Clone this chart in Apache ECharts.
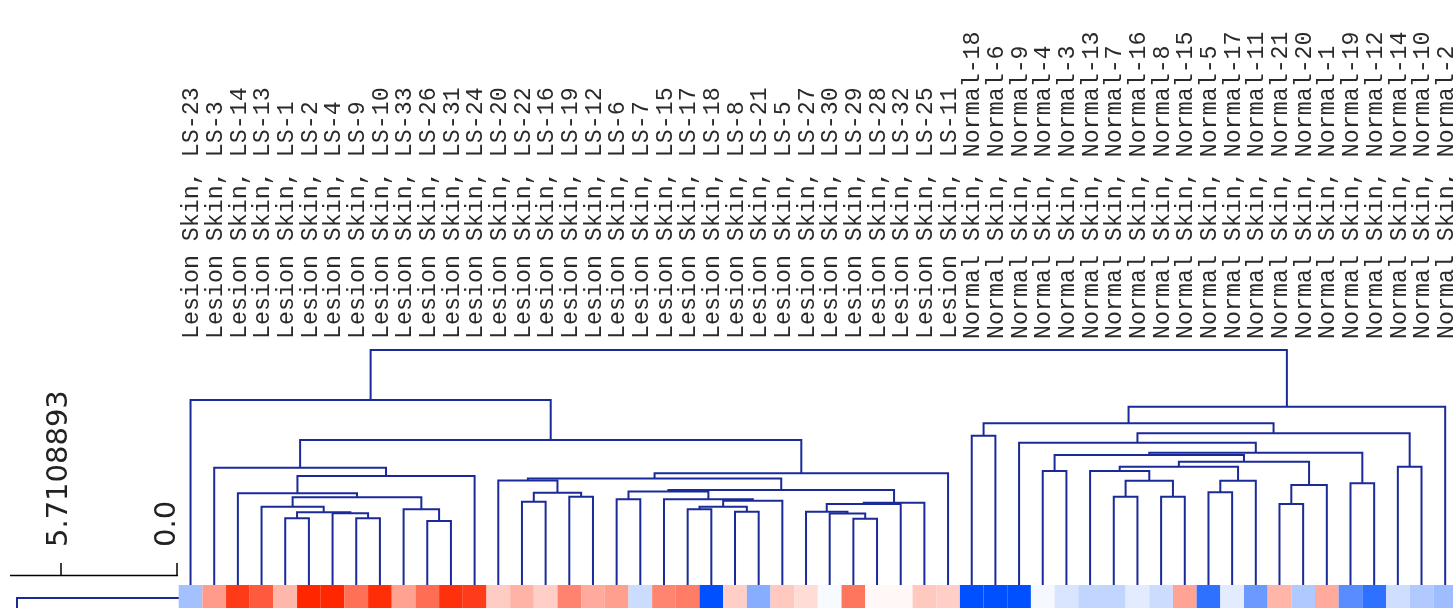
<!DOCTYPE html>
<html>
<head>
<meta charset="utf-8">
<title>Lesion vs Normal skin - clustering</title>
<script src="https://cdn.jsdelivr.net/npm/echarts@6/dist/echarts.min.js"></script>
<style>
  html, body { margin: 0; padding: 0; background: #fff; }
  #chart { width: 1453px; height: 608px; }
</style>
</head>
<body>
<div id="chart"></div>
<script>
// leaf order, left to right
var lesionIds = ['LS-23', 'LS-3', 'LS-14', 'LS-13', 'LS-1', 'LS-2', 'LS-4', 'LS-9', 'LS-10', 'LS-33',
    'LS-26', 'LS-31', 'LS-24', 'LS-20', 'LS-22', 'LS-16', 'LS-19', 'LS-12', 'LS-6', 'LS-7',
    'LS-15', 'LS-17', 'LS-18', 'LS-8', 'LS-21', 'LS-5', 'LS-27', 'LS-30', 'LS-29', 'LS-28',
    'LS-32', 'LS-25', 'LS-11'];
var normalIds = ['Normal-18', 'Normal-6', 'Normal-9', 'Normal-4', 'Normal-3', 'Normal-13', 'Normal-7',
    'Normal-16', 'Normal-8', 'Normal-15', 'Normal-5', 'Normal-17', 'Normal-11', 'Normal-21',
    'Normal-20', 'Normal-1', 'Normal-19', 'Normal-12', 'Normal-14', 'Normal-10', 'Normal-2'];

// expression of the row shown (blue = low, red = high)
var lesionValues = [-0.36, 0.46, 0.91, 0.76, 0.33, 1.0, 1.0, 0.66, 0.97, 0.43,
    0.67, 0.95, 0.90, 0.235, 0.35, 0.22, 0.57, 0.39, 0.44, -0.20,
    0.56, 0.60, -1.0, 0.22, -0.47, 0.25, 0.16, -0.03, 0.63, 0.03,
    0.03, 0.25, 0.22];
var normalValues = [-1.0, -1.0, -1.0, -0.04, -0.15, -0.24, -0.24, -0.11, -0.20, 0.42,
    -0.82, -0.11, -0.58, 0.34, -0.31, 0.39, -0.65, -0.82, -0.19, -0.31, -0.38];

// merges: [name, child a, child b, distance]
var merges = [
    ['m0', 'LS-1', 'LS-2', 66.7],
    ['m1', 'LS-9', 'LS-10', 66.7],
    ['m2', 'LS-4', 'm1', 71.7],
    ['m3', 'm0', 'm2', 72.7],
    ['m4', 'LS-13', 'm3', 78.3],
    ['m5', 'LS-26', 'LS-31', 64],
    ['m6', 'LS-33', 'm5', 75.7],
    ['m7', 'm4', 'm6', 87.7],
    ['m8', 'LS-14', 'm7', 91.7],
    ['m9', 'm8', 'LS-24', 109],
    ['m10', 'LS-3', 'm9', 117.3],
    ['m11', 'LS-22', 'LS-16', 83.3],
    ['m12', 'LS-19', 'LS-12', 88.3],
    ['m13', 'm11', 'm12', 92.3],
    ['m14', 'LS-20', 'm13', 104.5],
    ['m15', 'LS-6', 'LS-7', 85.7],
    ['m16', 'LS-17', 'LS-18', 75.7],
    ['m17', 'LS-8', 'LS-21', 73.3],
    ['m18', 'm16', 'm17', 78.3],
    ['m19', 'm18', 'LS-5', 84.3],
    ['m20', 'LS-15', 'm19', 85.7],
    ['m21', 'm15', 'm20', 93.5],
    ['m22', 'LS-29', 'LS-28', 66.3],
    ['m23', 'LS-30', 'm22', 71.5],
    ['m24', 'LS-27', 'm23', 73.3],
    ['m25', 'm24', 'LS-32', 81],
    ['m26', 'm25', 'LS-25', 82.3],
    ['m27', 'm21', 'm26', 95],
    ['m28', 'm14', 'm27', 106.5],
    ['m29', 'm28', 'LS-11', 111.7],
    ['m30', 'm10', 'm29', 145],
    ['m31', 'LS-23', 'm30', 185],
    ['n0', 'Normal-18', 'Normal-6', 149.3],
    ['n1', 'Normal-4', 'Normal-3', 114],
    ['n2', 'Normal-7', 'Normal-16', 88.3],
    ['n3', 'Normal-8', 'Normal-15', 88.3],
    ['n4', 'n2', 'n3', 104.3],
    ['n5', 'Normal-13', 'n4', 114],
    ['n6', 'Normal-5', 'Normal-17', 92.7],
    ['n7', 'n6', 'Normal-11', 104.3],
    ['n8', 'n5', 'n7', 118.3],
    ['n9', 'Normal-21', 'Normal-20', 81],
    ['n10', 'n9', 'Normal-1', 100],
    ['n11', 'n8', 'n10', 123.3],
    ['n12', 'n1', 'n11', 130],
    ['n13', 'Normal-19', 'Normal-12', 101.7],
    ['n14', 'n12', 'n13', 132.3],
    ['n15', 'Normal-9', 'n14', 142.3],
    ['n16', 'Normal-14', 'Normal-10', 118.3],
    ['n17', 'n15', 'n16', 151.7],
    ['n18', 'n0', 'n17', 161.7],
    ['n19', 'n18', 'Normal-2', 178.3],
    ['root', 'm31', 'n19', 235]
];

var leafIds = lesionIds.concat(normalIds);
var heatValues = lesionValues.concat(normalValues);
var leafLabels = leafIds.map(function (id) {
    return (id.indexOf('LS') === 0 ? 'Lesion Skin, ' : 'Normal Skin, ') + id;
});

// node positions: leaves at their index, inner nodes at the middle of their children
var pos = {};
leafIds.forEach(function (id, i) { pos[id] = { x: i, h: 0 }; });
var links = [];
merges.forEach(function (m) {
    var a = pos[m[1]], b = pos[m[2]];
    links.push([a.x, a.h, b.x, b.h, m[3]]);
    pos[m[0]] = { x: (a.x + b.x) / 2, h: m[3] };
});

var lineColor = '#1b2a99';
var labelBase = 246;

var myChart = echarts.init(document.getElementById('chart'));
var option = {
    backgroundColor: '#ffffff',
    animation: false,
    grid: { left: 178.7, right: 0, top: 0, bottom: 0 },
    xAxis: { type: 'value', min: -0.5, max: 53.33, show: false },
    yAxis: { type: 'value', min: -23, max: 585, show: false },
    visualMap: {
        show: false,
        type: 'continuous',
        seriesIndex: 0,
        dimension: 1,
        min: -1,
        max: 1,
        inRange: { color: ['#0050ff', '#ffffff', '#ff2600'] }
    },
    graphic: [
        { type: 'line', shape: { x1: 10, y1: 575.5, x2: 178, y2: 575.5 }, style: { stroke: '#000', lineWidth: 1.5 } },
        { type: 'line', shape: { x1: 61, y1: 563, x2: 61, y2: 575.5 }, style: { stroke: '#000', lineWidth: 1.5 } },
        { type: 'line', shape: { x1: 177, y1: 563, x2: 177, y2: 575.5 }, style: { stroke: '#000', lineWidth: 1.5 } },
        { type: 'text', x: 59, y: 547, rotation: Math.PI / 2,
          style: { text: '5.7108893', font: '29px "DejaVu Sans"', fill: '#222', align: 'left', verticalAlign: 'middle' } },
        { type: 'text', x: 167, y: 547, rotation: Math.PI / 2,
          style: { text: '0.0', font: '29px "DejaVu Sans"', fill: '#222', align: 'left', verticalAlign: 'middle' } },
        { type: 'polyline', shape: { points: [[17, 610], [17, 598], [179, 598]] }, style: { stroke: lineColor, lineWidth: 2, fill: null } }
    ],
    series: [
        {
            type: 'custom',
            name: 'heat',
            data: heatValues.map(function (v, i) { return [i, v]; }),
            encode: { x: 0 },
            renderItem: function (params, api) {
                var i = api.value(0);
                var p0 = api.coord([i - 0.5, 0]);
                var p1 = api.coord([i + 0.5, -30]);
                return {
                    type: 'rect',
                    shape: { x: p0[0], y: p0[1], width: p1[0] - p0[0], height: p1[1] - p0[1] },
                    style: { fill: api.visual('color') }
                };
            }
        },
        {
            type: 'custom',
            name: 'tree',
            data: links,
            encode: { x: [0, 2], y: [1, 3, 4] },
            renderItem: function (params, api) {
                var xa = api.value(0), ha = api.value(1), xb = api.value(2), hb = api.value(3), h = api.value(4);
                return {
                    type: 'polyline',
                    shape: { points: [api.coord([xa, ha]), api.coord([xa, h]), api.coord([xb, h]), api.coord([xb, hb])] },
                    style: { stroke: lineColor, lineWidth: 2, fill: null }
                };
            }
        },
        {
            type: 'custom',
            name: 'labels',
            data: leafIds.map(function (id, i) { return [i, labelBase]; }),
            encode: { x: 0, y: 1 },
            renderItem: function (params, api) {
                var p = api.coord([api.value(0), api.value(1)]);
                return {
                    type: 'text',
                    x: p[0] + 1.5,
                    y: p[1],
                    rotation: Math.PI / 2,
                    style: {
                        text: leafLabels[params.dataIndex],
                        font: '23.3px "Liberation Mono"',
                        fill: '#2a2a2a',
                        align: 'left',
                        verticalAlign: 'middle'
                    }
                };
            }
        }
    ]
};
myChart.setOption(option);
</script>
</body>
</html>
